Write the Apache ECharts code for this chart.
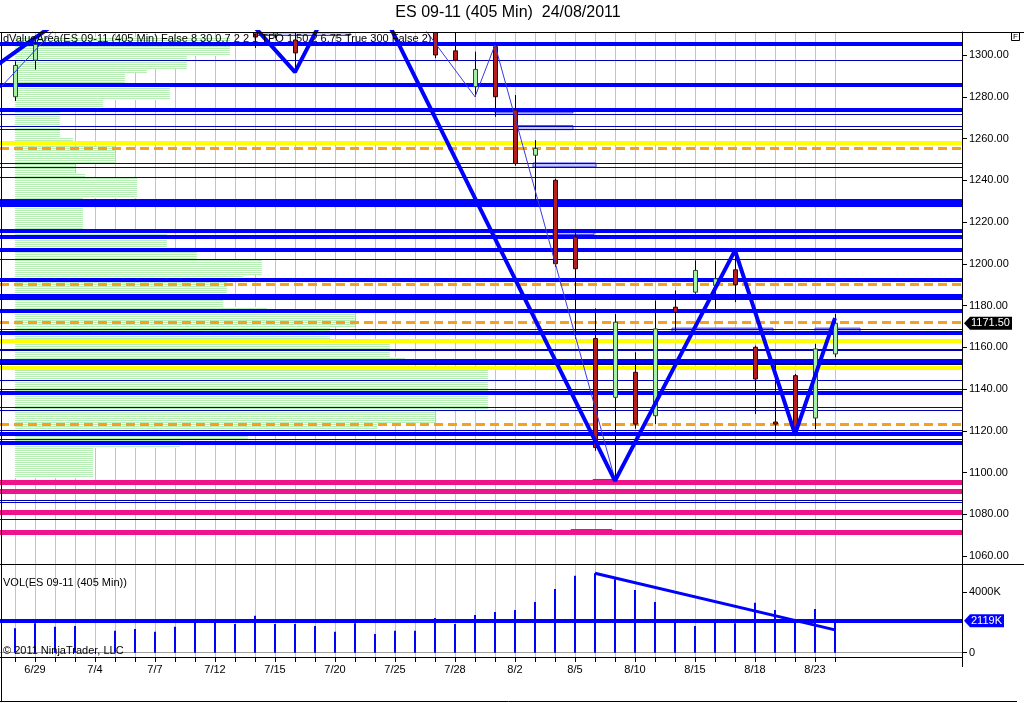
<!DOCTYPE html>
<html><head><meta charset="utf-8">
<script src="https://cdn.jsdelivr.net/npm/echarts@6/dist/echarts.min.js"></script>
<style>html,body{margin:0;padding:0;background:#fff}#c{width:1024px;height:703px}</style>
</head><body><div id="c"></div>
<script>
// ---- data ----
const dates = ['6/28','6/29','6/30','7/1','7/4','7/5','7/6','7/7','7/8','7/11','7/12','7/13','7/14','7/15','7/18','7/19','7/20','7/21','7/22','7/25','7/26','7/27','7/28','7/29','8/1','8/2','8/3','8/4','8/5','8/8','8/9','8/10','8/11','8/12','8/15','8/16','8/17','8/18','8/19','8/22','8/23','8/24'];
const opens  = [1280,1297.5,1311,1316,1335,1336,1333,1336,1350,1340,1330,1318,1316,1310,1307.2,1311,1322,1330,1345,1338,1328,1320,1302,1284.8,1304,1273.6,1252,1240,1212.8,1164.2,1136,1148,1127.2,1179.2,1186.4,1189.6,1197.1,1160,1124.2,1146.4,1126.1,1156.8];
const closes = [1295,1305,1316,1322,1336,1333,1336,1350,1340,1330,1318,1315,1308.6,1314,1301,1322,1330,1345,1338,1328,1330,1300,1297.5,1293.1,1280,1248,1255.2,1200,1197.6,1112,1172,1123.2,1168.8,1176.8,1196.8,1192.8,1190,1144.8,1123.2,1120.8,1159.2,1171.5];
const lows   = [1278,1293,1310.5,1314,1333,1330,1328,1334,1332,1326,1312,1312,1303.4,1308,1292,1310.5,1318,1326,1334,1322,1318,1298.5,1297,1280,1270.4,1247,1230.4,1198.5,1164,1110.4,1096.5,1121,1123.2,1167.2,1185.6,1178.4,1181.6,1128,1118.4,1118.4,1120.8,1155.2];
const highs  = [1297,1309,1319,1327,1337,1339,1340,1353,1356,1343,1332,1325,1320,1318,1315,1325,1334,1347.5,1347,1340,1333,1325,1315,1301.6,1304.8,1280.8,1259.2,1240.8,1216,1178.6,1176,1157.6,1182.4,1187.2,1201.6,1201.6,1206.4,1160.8,1153.6,1147.2,1161.6,1176];
const volumesK = [1620,1950,1720,1770,30,1460,1570,1390,1720,2100,2170,1900,2450,1900,1900,1770,1390,1950,1240,1460,1460,2300,1900,2500,2700,2830,3360,4220,5100,5260,4860,4150,3360,2170,1770,2170,1950,3310,2830,2170,2890,2170];
const priceTicks = [1060,1080,1100,1120,1140,1160,1180,1200,1220,1240,1260,1280,1300];
const volTicks = [0,4000];
const labelIdx = [1,4,7,10,13,16,19,22,25,28,31,34,37,40];
const lastPrice = 1171.5;
const avgVolumeK = 2119;

const thickBlueLevels = [1305.6,1285.9,1273.6,1230.2,1228.5,1216.0,1213.1,1206.9,1192.5,1184.5,1183.5,1177.3,1166.9,1153.6,1138.2,1118.4,1114.1];
const thinBlueLevels = [1297.6,1271.5,1265.8,1264.3,1248.0,1246.1,1241.3,1202.1,1168.5,1159.2,1158.4,1144.3,1139.7,1131.2,1129.6,1120.3,1115.8,1086.9,1085.8,1077.6];
const darkLevels = [1152.0];
const yellowLevels = [1258.1,1162.9,1150.4];
const orangeLevels = [1255.2,1190.4,1172.0,1123.2];
const magentaLevels = [1095.2,1090.8,1081.0,1071.4];

// value-area segments: [fromIndex, toIndex, price]
const vaSegments = [[12,16.75,1310.3],[24,27.9,1273.2],[25.15,27.9,1265.2],[25.9,29.05,1247.3],[26.9,28.95,1214.9],[32.85,37.9,1168.2],[40,42.25,1168.2],[28.9,30.05,1095.7],[27.8,30.05,1090.9],[27.8,29.85,1071.7]];

// volume profile runs: [highPrice, lowPrice, length (in bars)]
const profileRuns = [[1308,1300,10.75],[1299,1294,8.6],[1293,1292,6.6],[1291,1287,5.5],[1286,1286,6.25],[1285,1279,7.75],[1278,1273,4.4],[1272,1261,2.25],[1260,1257,2.9],[1256,1249,5.0],[1248,1244,3.0],[1243,1242,3.5],[1241,1232,6.1],[1231,1216,3.4],[1215,1208,7.6],[1207,1203,9.1],[1202,1195,12.35],[1194,1192,11.4],[1191,1184,10.6],[1183,1180,10.4],[1179,1177,12.6],[1176,1170,17],[1169,1163,15.75],[1162,1156,18.75],[1155,1150,19.5],[1149,1130,23.65],[1129,1124,21],[1123,1120,18.1],[1119,1116,11.65],[1115,1112,8.25],[1111,1098,3.9]];

const zigzagMajor = [[-1,1294.5],[8,1356],[14,1291.8],[17,1347.5],[30,1096],[36,1206.4],[39,1118.4],[41,1174]];
const zigzagMinor = [[-1,1281.6],[2,1312.5],[20,1318.7],[23,1280],[24,1304.8],[30,1096.5]];
const volTrend = [[29,5260],[41,1510]];

// ---- build ----
const FONT = '"Liberation Sans", Arial, sans-serif';
const chart = echarts.init(document.getElementById('c'), null, {devicePixelRatio:1});
const candleData = dates.map((d,i)=>[i,opens[i],closes[i],lows[i],highs[i]]);
const barIdx = dates.map((d,i)=>i);

// striped pale-green fill for the volume profile
const pc = document.createElement('canvas'); pc.width = 1; pc.height = 2;
const pctx = pc.getContext('2d');
pctx.fillStyle = '#b6eeb6'; pctx.fillRect(0,0,1,1);
pctx.fillStyle = '#ffffff'; pctx.fillRect(0,1,1,1);
const stripeFill = {image: pc, repeat: 'repeat'};

function lv(arr, color, width, type){ return arr.map(v=>({yAxis:v, lineStyle:{color:color,width:width,type:type||'solid'}})); }
const hLines = [].concat(
  lv(thinBlueLevels,'#0000b4',1),
  lv(darkLevels,'#000070',2),
  lv(yellowLevels,'#ffff00',4),
  lv(magentaLevels,'#f0148c',5),
  lv(thickBlueLevels,'#0000ff',4),
  lv(orangeLevels,'#f5a01e',3,[9,5])
);

const xCommon = {type:'value', min:-0.75, max:47.35,
  splitLine:{show:true, lineStyle:{color:'#c4c4c4', width:1}}};

chart.setOption({
  animation:false,
  backgroundColor:'#fff',
  grid:[
    {left:0, top:32, width:962, height:533},
    {left:0, top:565, width:962, height:92}
  ],
  xAxis:[
    Object.assign({gridIndex:0, axisLine:{show:false, onZero:false},
      axisTick:{show:false, customValues:barIdx},
      axisLabel:{show:false, customValues:barIdx}}, xCommon),
    Object.assign({gridIndex:1,
      axisLine:{show:true, onZero:false, lineStyle:{color:'#000',width:1}},
      axisTick:{show:true, length:5, customValues:barIdx, lineStyle:{color:'#000'}},
      axisLabel:{customValues:labelIdx, formatter:v=>dates[v]||'', color:'#000', fontSize:11, fontFamily:FONT, margin:7}
    }, xCommon)
  ],
  yAxis:[
    {gridIndex:0, type:'value', position:'right', min:1055.69, max:1311.02, splitLine:{show:false},
     axisLine:{show:true, onZero:false, lineStyle:{color:'#000'}},
     axisTick:{show:true, length:5, customValues:priceTicks, lineStyle:{color:'#000'}},
     axisLabel:{customValues:priceTicks, formatter:v=>v.toFixed(2), color:'#000', fontSize:11, fontFamily:FONT, margin:7}},
    {gridIndex:1, type:'value', position:'right', min:-285, max:5806, splitLine:{show:false},
     axisLine:{show:true, onZero:false, lineStyle:{color:'#000'}},
     axisTick:{show:true, length:5, customValues:volTicks, lineStyle:{color:'#000'}},
     axisLabel:{customValues:volTicks, formatter:v=>v===0?'0':v+'K', color:'#000', fontSize:11, fontFamily:FONT, margin:7}}
  ],
  series:[
    {type:'custom', name:'profile', xAxisIndex:0, yAxisIndex:0, z:0, silent:true, clip:true,
     data:profileRuns, encode:{y:[0,1], x:2},
     renderItem:function(params, api){
       const hi = api.value(0), lo = api.value(1), len = api.value(2);
       const a = api.coord([0, hi + 0.5]), b = api.coord([len, lo - 0.5]);
       return {type:'rect', shape:{x:a[0], y:Math.round(a[1]), width:b[0]-a[0], height:Math.round(b[1])-Math.round(a[1])}, style:{fill:stripeFill}};
     }},
    {type:'line', name:'levels', xAxisIndex:0, yAxisIndex:0, z:3, silent:true, data:[[-50,1200]], showSymbol:false, lineStyle:{opacity:0},
     markLine:{silent:true, symbol:'none', label:{show:false}, animation:false, emphasis:{disabled:true}, data:hLines}},
    {type:'custom', name:'valueArea', xAxisIndex:0, yAxisIndex:0, z:4, silent:true, clip:true,
     data:vaSegments, encode:{x:[0,1],y:2},
     renderItem:function(params, api){
       const a = api.coord([api.value(0), api.value(2)]), b = api.coord([api.value(1), api.value(2)]);
       return {type:'rect', shape:{x:a[0], y:a[1]-2, width:b[0]-a[0], height:4}, style:{fill:'#c4c4fa', stroke:'#3c3cf0', lineWidth:1}};
     }},
    {type:'custom', name:'candles', xAxisIndex:0, yAxisIndex:0, z:5, silent:true, clip:true,
     data:candleData, encode:{x:0,y:[1,2,3,4]},
     renderItem:function(params, api){
       const i=api.value(0), o=api.value(1), c=api.value(2), l=api.value(3), h=api.value(4);
       const x = Math.round(api.coord([i,o])[0]);
       const yo=api.coord([i,o])[1], yc=api.coord([i,c])[1], yl=api.coord([i,l])[1], yh=api.coord([i,h])[1];
       const up = c>=o, top=Math.min(yo,yc), bot=Math.max(yo,yc);
       return {type:'group', children:[
         {type:'line', shape:{x1:x+0.5,y1:yh,x2:x+0.5,y2:yl}, style:{stroke:'#000',lineWidth:1}},
         {type:'rect', shape:{x:x-1.5,y:top,width:4,height:Math.max(bot-top,1)}, style:{fill:up?'#a8f0a8':'#b41e1e', stroke:up?'#2a4a2a':'#3a0000', lineWidth:1}}
       ]};
     }},
    {type:'line', name:'zigzagMinor', xAxisIndex:0, yAxisIndex:0, z:6, silent:true, data:zigzagMinor, showSymbol:false, lineStyle:{color:'#3a3ae0',width:1}},
    {type:'line', name:'zigzagMajor', xAxisIndex:0, yAxisIndex:0, z:7, silent:true, data:zigzagMajor, showSymbol:false, lineStyle:{color:'#0000ff',width:4}},
    {type:'bar', name:'volume', xAxisIndex:1, yAxisIndex:1, z:5, silent:true, barWidth:2, itemStyle:{color:'#0000ff'},
     data:volumesK.map((v,i)=>[i,v]),
     markLine:{silent:true, symbol:'none', label:{show:false}, animation:false, data:[
       {yAxis:0, lineStyle:{color:'#a0a0a0',width:1,type:'solid'}},
       {yAxis:avgVolumeK, lineStyle:{color:'#0000ff',width:4,type:'solid'}}
     ]}},
    {type:'line', name:'volTrend', xAxisIndex:1, yAxisIndex:1, z:7, silent:true, data:volTrend, showSymbol:false, lineStyle:{color:'#0000ff',width:3}}
  ]
});

const yP = chart.convertToPixel({yAxisIndex:0}, lastPrice);
const yV = chart.convertToPixel({yAxisIndex:1}, avgVolumeK);
function tag(y, fill, text, right){
  return [
    {type:'polygon', z:100, shape:{points:[[964,y],[970,y-6.5],[right,y-6.5],[right,y+6.5],[970,y+6.5]]}, style:{fill:fill}},
    {type:'text', z:101, style:{text:text, x:971, y:y, fill:'#fff', font:'11px '+FONT, textVerticalAlign:'middle'}}
  ];
}
chart.setOption({graphic:[
  {type:'text', z:100, style:{text:'ES 09-11 (405 Min)  24/08/2011', x:508, y:13, fill:'#000', font:'16px '+FONT, textAlign:'center', textVerticalAlign:'middle'}},
  {type:'text', z:100, style:{text:'dValueArea(ES 09-11 (405 Min) False 8 30 0.7 2 2 1 TPO 1 50 2 6.75 True 300 False 2)', x:3, y:39, fill:'#000', font:'11px '+FONT, textVerticalAlign:'middle'}},
  {type:'text', z:100, style:{text:'VOL(ES 09-11 (405 Min))', x:3, y:583, fill:'#000', font:'11px '+FONT, textVerticalAlign:'middle'}},
  {type:'text', z:100, style:{text:'© 2011 NinjaTrader, LLC', x:3, y:651, fill:'#000', font:'11px '+FONT, textVerticalAlign:'middle'}},
  {type:'line', z:100, shape:{x1:0,y1:32.5,x2:1024,y2:32.5}, style:{stroke:'#000',lineWidth:1}},
  {type:'line', z:100, shape:{x1:0,y1:564.5,x2:1024,y2:564.5}, style:{stroke:'#000',lineWidth:1}},
  {type:'line', z:100, shape:{x1:1.5,y1:32,x2:1.5,y2:702}, style:{stroke:'#000',lineWidth:1}},
  {type:'line', z:100, shape:{x1:0,y1:701.5,x2:1017,y2:701.5}, style:{stroke:'#000',lineWidth:1}},
  {type:'line', z:100, shape:{x1:962.5,y1:657,x2:962.5,y2:667}, style:{stroke:'#000',lineWidth:1}},
  {type:'rect', z:100, shape:{x:1011.5,y:32.5,width:8,height:8}, style:{fill:'#fff',stroke:'#000',lineWidth:1}},
  {type:'text', z:101, style:{text:'F', x:1015.5, y:37, fill:'#000', font:'8px '+FONT, textAlign:'center', textVerticalAlign:'middle'}}
].concat(tag(yP,'#000','1171.50',1012), tag(yV,'#0000ff','2119K',1004))});
</script>
</body></html>
